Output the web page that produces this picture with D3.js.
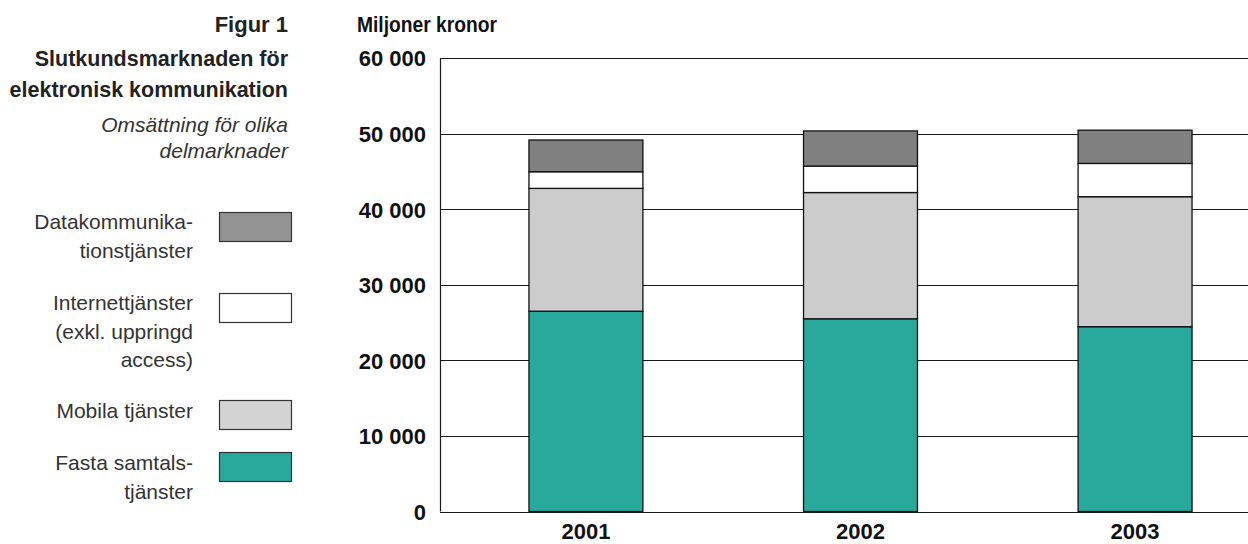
<!DOCTYPE html>
<html><head><meta charset="utf-8">
<script src="https://cdn.jsdelivr.net/npm/d3@7"></script>
<style>body{margin:0;background:#fff}svg{display:block}</style>
</head><body>
<svg id="c" width="1248" height="544"></svg>
<script>
const years = ["2001", "2002", "2003"];
const seriesNames = ["Fasta samtalstjänster", "Mobila tjänster", "Internettjänster (exkl. uppringd access)", "Datakommunikationstjänster"];
const fasta = [26500, 25500, 24450];
const mobila = [16250, 16700, 17200];
const internet = [2200, 3500, 4400];
const data = [4200, 4650, 4400];
const yTicks = [0, 10000, 20000, 30000, 40000, 50000, 60000];
const legendLabels = [
  ["Datakommunika-", "tionstjänster"],
  ["Internettjänster", "(exkl. uppringd", "access)"],
  ["Mobila tjänster"],
  ["Fasta samtals-", "tjänster"]
];

const barColors = ["#29a89c", "#cccccc", "#ffffff", "#808080"];
const legendColors = ["#939393", "#ffffff", "#d3d3d3", "#29a89c"];

const svg = d3.select("#c");
const L = 440, R = 1248, T = 58, B = 511.5;

const x = d3.scaleBand().domain(years).range([L, 1281]).paddingInner(0.585).paddingOuter(0.324);
const y = d3.scaleLinear().domain([0, 60000]).range([B, T]);

// gridlines
svg.append("g").selectAll("line").data(yTicks).join("line")
  .attr("x1", L).attr("x2", R)
  .attr("y1", d => Math.round(y(d)) + 0.5).attr("y2", d => Math.round(y(d)) + 0.5)
  .attr("stroke", "#1a1a1a").attr("stroke-width", 1.2);
svg.append("line").attr("x1", L + 0.5).attr("x2", L + 0.5).attr("y1", y(60000)).attr("y2", y(0))
  .attr("stroke", "#1a1a1a").attr("stroke-width", 1.2);

// y tick labels via axis
const yAxis = d3.axisLeft(y).tickValues(yTicks).tickSize(0).tickPadding(0)
  .tickFormat(d => d3.format(",")(d).replace(/,/g, " "));
const ga = svg.append("g").attr("transform", `translate(426,0)`).call(yAxis);
ga.select(".domain").remove();
ga.selectAll("text").attr("font-family", "'Liberation Sans', Arial, sans-serif")
  .attr("font-size", 22).attr("font-weight", "bold").attr("fill", "#111").attr("dy", "0.36em");

// x labels via axis
const xAxis = d3.axisBottom(x).tickSize(0).tickPadding(0);
const gx = svg.append("g").attr("transform", `translate(0,${B})`).call(xAxis);
gx.select(".domain").remove();
gx.selectAll("text").attr("font-family", "'Liberation Sans', Arial, sans-serif")
  .attr("font-size", 22).attr("font-weight", "bold").attr("fill", "#111")
  .attr("dy", null).attr("y", 27.5);

// stacked bars
const rows = years.map((yr, i) => ({year: yr, s0: fasta[i], s1: mobila[i], s2: internet[i], s3: data[i]}));
const stack = d3.stack().keys(["s0", "s1", "s2", "s3"])(rows);
svg.append("g").selectAll("g").data(stack).join("g")
  .attr("fill", (d, i) => barColors[i])
  .selectAll("rect").data(d => d).join("rect")
  .attr("x", d => x(d.data.year))
  .attr("width", x.bandwidth())
  .attr("y", d => y(d[1]))
  .attr("height", d => y(d[0]) - y(d[1]))
  .attr("stroke", "#111").attr("stroke-width", 1.3);

// y unit label
svg.append("text").attr("x", 357).attr("y", 31.5)
  .attr("font-family", "'Liberation Sans', Arial, sans-serif")
  .attr("font-size", 21.5).attr("font-weight", "bold").attr("fill", "#111")
  .attr("textLength", 140).attr("lengthAdjust", "spacingAndGlyphs")
  .text("Miljoner kronor");

// left titles
const tf = "'Liberation Sans', Arial, sans-serif";
svg.append("text").attr("x", 288).attr("y", 32).attr("text-anchor", "end")
  .attr("font-family", tf).attr("font-size", 22).attr("font-weight", "bold").attr("fill", "#222").text("Figur 1");
[["Slutkundsmarknaden för", 66], ["elektronisk kommunikation", 97]].forEach(([t, yy]) =>
  svg.append("text").attr("x", 288).attr("y", yy).attr("text-anchor", "end")
    .attr("font-family", tf).attr("font-size", 21.5).attr("font-weight", "bold").attr("fill", "#222").text(t));
[["Omsättning för olika", 132], ["delmarknader", 158]].forEach(([t, yy]) =>
  svg.append("text").attr("x", 288).attr("y", yy).attr("text-anchor", "end")
    .attr("font-family", tf).attr("font-size", 21).attr("font-style", "italic").attr("fill", "#333").text(t));

// legend
const swY = [212, 293, 400, 452];
const txtY = [229, 310, 418, 470];
const lg = svg.append("g");
legendLabels.forEach((lines, i) => {
  lg.append("rect").attr("x", 219.5).attr("y", swY[i] + 0.5).attr("width", 72).attr("height", 29)
    .attr("fill", legendColors[i]).attr("stroke", "#333").attr("stroke-width", 1.2);
  lines.forEach((t, j) => lg.append("text").attr("x", 193).attr("y", txtY[i] + j * 28.5)
    .attr("text-anchor", "end").attr("font-family", tf).attr("font-size", 21).attr("fill", "#333").text(t));
});
</script>
</body></html>
